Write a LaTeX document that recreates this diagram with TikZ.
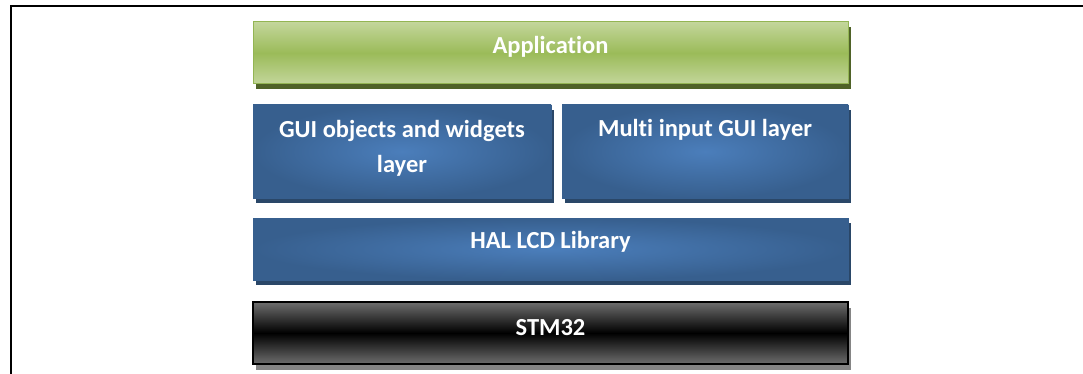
\documentclass[tikz,border=0pt]{standalone}
\usepackage{fontspec}
\setmainfont[Ligatures=NoCommon]{Carlito}
\usetikzlibrary{shadows}
\definecolor{gLight}{HTML}{C3D69B}
\definecolor{gMid}{HTML}{9BBB59}
\definecolor{gEdge}{HTML}{93B553}
\definecolor{gShadow}{HTML}{4F6228}
\definecolor{bIn}{HTML}{4B7EBB}
\definecolor{bOut}{HTML}{375F8E}
\definecolor{bShadow}{HTML}{2A4768}
\definecolor{kGray}{HTML}{6E6E6E}
\definecolor{kShadow}{HTML}{858585}
\tikzset{
  layerbox/.style={rectangle, inner sep=0pt, outer sep=0pt, anchor=north west},
  greenbox/.style={layerbox, draw=gEdge, line width=1pt,
    top color=gLight, bottom color=gLight, middle color=gMid,
    general shadow={fill=gShadow, shadow xshift=3pt, shadow yshift=-5pt}},
  bluebox/.style={layerbox, draw=bOut, line width=0.6pt,
    inner color=bIn, outer color=bOut,
    general shadow={fill=bShadow, shadow xshift=3pt, shadow yshift=-5pt}},
  blackbox/.style={layerbox, draw=black, line width=1.2pt,
    top color=kGray, bottom color=kGray, middle color=black,
    general shadow={fill=kShadow, shadow xshift=3pt, shadow yshift=-6pt}},
  lbl/.style={text=white, font=\fontsize{24.5}{35}\selectfont\bfseries, align=center, inner sep=0pt},
  frameline/.style={line width=2pt, black}
}
\begin{document}
\begin{tikzpicture}[x=1pt, y=-1pt]
\useasboundingbox (0,0) rectangle (1083,374);
\draw[frameline] (11,376) -- (11,6.5) -- (1085,6.5);

\node[greenbox, minimum width=595pt, minimum height=62pt] (app) at (253,22) {};
\node[lbl] (appt) at ([yshift=6pt]app.center) {Application};

\node[bluebox, minimum width=298pt, minimum height=93pt] (gui) at (253,105) {};
\node[lbl] (guit) at ([yshift=3pt]gui.center) {GUI objects and widgets\\layer};

\node[bluebox, minimum width=286pt, minimum height=93pt] (multi) at (562,105) {};
\node[lbl, anchor=base] (multit) at ([yshift=15pt]multi.center) {Multi input GUI layer};

\node[bluebox, minimum width=595pt, minimum height=62pt] (hal) at (253,218) {};
\node[lbl] (halt) at ([yshift=7pt]hal.center) {HAL LCD Library};

\node[blackbox, minimum width=595pt, minimum height=62pt] (stm) at (253,302) {};
\node[lbl] (stmt) at ([yshift=5pt]stm.center) {STM32};
\end{tikzpicture}
\end{document}
